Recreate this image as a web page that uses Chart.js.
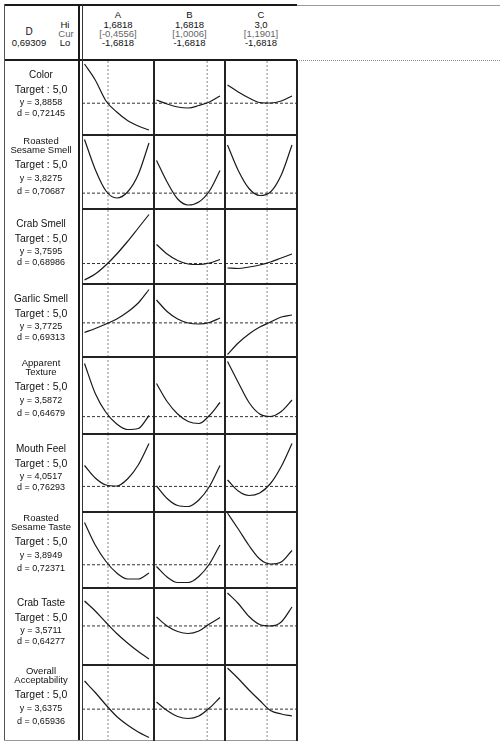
<!DOCTYPE html>
<html><head><meta charset="utf-8">
<script src="https://cdn.jsdelivr.net/npm/chart.js@4"></script>
<style>
body{margin:0;background:#fff;width:502px;height:742px;position:relative;overflow:hidden;font-family:"Liberation Sans",Arial,sans-serif;color:#111}
.t{position:absolute;white-space:nowrap;transform:translate(-50%,-50%);line-height:1;color:#111}
.ln{position:absolute}
canvas{position:absolute}
</style></head><body>
<script>
// ---------- data ----------
const factorNames = ["A", "B", "C"];
const factorHi = [1.6818, 1.6818, 3.0];
const factorHiDigits = [4, 4, 1];
const factorLo = [-1.6818, -1.6818, -1.6818];
const factorCur = [-0.4556, 1.0006, 1.1901];
const compositeD = 0.69309;

const xGridAB = [-1.6818, -1.1212, -0.5606, 0, 0.5606, 1.1212, 1.6818];
const xGridC = [-1.6818, -0.9015, -0.1212, 0.6591, 1.4394, 2.2197, 3.0];

const responseNames = [["Color"], ["Roasted", "Sesame Smell"], ["Crab Smell"], ["Garlic Smell"],
  ["Apparent", "Texture"], ["Mouth Feel"], ["Roasted", "Sesame Taste"], ["Crab Taste"], ["Overall", "Acceptability"]];
const responseTarget = [5.0, 5.0, 5.0, 5.0, 5.0, 5.0, 5.0, 5.0, 5.0];
const responseY = [3.8858, 3.8275, 3.7595, 3.7725, 3.5872, 4.0517, 3.8949, 3.5711, 3.6375];
const responseD = [0.72145, 0.70687, 0.68986, 0.69313, 0.64679, 0.76293, 0.72371, 0.64277, 0.65936];
const yAxisMin = [3.25, 3.51, 3.35, 3.09, 3.24, 3.54, 3.43, 2.79, 3.00];
const yAxisMax = [4.75, 4.99, 4.85, 4.55, 4.78, 5.10, 4.95, 4.33, 4.52];

const curveA = [
  [4.67, 4.35, 3.93, 3.71, 3.54, 3.43, 3.35],
  [4.90, 4.30, 3.87, 3.73, 3.85, 4.20, 4.83],
  [3.43, 3.55, 3.73, 3.95, 4.20, 4.47, 4.74],
  [3.58, 3.66, 3.75, 3.85, 3.99, 4.17, 4.44],
  [4.65, 4.05, 3.67, 3.44, 3.33, 3.35, 3.61],
  [4.47, 4.22, 4.08, 4.06, 4.20, 4.48, 4.91],
  [4.74, 4.29, 3.96, 3.73, 3.61, 3.61, 3.73],
  [4.07, 3.87, 3.64, 3.42, 3.23, 3.06, 2.91],
  [4.20, 3.97, 3.72, 3.49, 3.32, 3.18, 3.07]
];
const curveB = [
  [3.95, 3.87, 3.81, 3.79, 3.84, 3.91, 4.03],
  [4.48, 4.05, 3.71, 3.59, 3.65, 3.87, 4.28],
  [4.14, 3.95, 3.82, 3.75, 3.74, 3.77, 3.84],
  [4.23, 4.00, 3.85, 3.77, 3.75, 3.78, 3.87],
  [4.25, 3.89, 3.64, 3.49, 3.45, 3.61, 3.87],
  [4.06, 3.81, 3.67, 3.65, 3.78, 4.05, 4.47],
  [3.86, 3.65, 3.54, 3.54, 3.66, 3.91, 4.29],
  [3.75, 3.57, 3.46, 3.42, 3.47, 3.61, 3.74],
  [3.78, 3.61, 3.49, 3.45, 3.50, 3.66, 3.87]
];
const curveC = [
  [4.25, 4.11, 3.99, 3.90, 3.89, 3.93, 4.03],
  [4.79, 4.28, 3.92, 3.78, 3.85, 4.19, 4.79],
  [3.67, 3.66, 3.69, 3.73, 3.79, 3.87, 3.95],
  [3.14, 3.37, 3.55, 3.69, 3.79, 3.89, 3.93],
  [4.69, 4.27, 3.87, 3.64, 3.59, 3.69, 3.92],
  [4.18, 3.96, 3.87, 3.92, 4.11, 4.45, 4.91],
  [4.93, 4.61, 4.28, 4.01, 3.91, 3.95, 4.18],
  [4.23, 4.02, 3.76, 3.60, 3.57, 3.65, 3.95],
  [4.46, 4.25, 4.02, 3.81, 3.61, 3.54, 3.50]
];

// ---------- layout ----------
const COL_EDGES = [82, 154, 225, 297];
const ROW_EDGES = [60, 135, 209, 284, 357, 434, 512, 588, 665, 741];
const PAD_L = 2.5, PAD_R = 5;
const LABEL_CX = 41;

const fmt = (v, d) => (v < 0 ? "-" : "") + Math.abs(v).toFixed(d).replace(".", ",");

function addText(txt, x, y, size, color, extra) {
  const el = document.createElement("div");
  el.className = "t";
  el.textContent = txt;
  el.style.left = x + "px";
  el.style.top = y + "px";
  el.style.fontSize = size + "px";
  el.style.color = color || "#111";
  if (extra) Object.assign(el.style, extra);
  document.body.appendChild(el);
}
function addLine(x, y, w, h, color, dotted) {
  const el = document.createElement("div");
  el.className = "ln";
  el.style.left = x + "px"; el.style.top = y + "px";
  if (dotted) {
    el.style.width = w + "px"; el.style.height = "0px";
    el.style.borderTop = h + "px dotted " + color;
  } else {
    el.style.width = w + "px"; el.style.height = h + "px";
    el.style.background = color;
  }
  document.body.appendChild(el);
}

// ---------- charts ----------
const curves = [curveA, curveB, curveC];
const grids = [xGridAB, xGridAB, xGridC];
for (let r = 0; r < responseNames.length; r++) {
  for (let c = 0; c < 3; c++) {
    const left = COL_EDGES[c], w = COL_EDGES[c + 1] - COL_EDGES[c];
    const top = ROW_EDGES[r], h = ROW_EDGES[r + 1] - ROW_EDGES[r];
    const span = factorHi[c] - factorLo[c];
    const plotW = w - PAD_L - PAD_R;
    const xMin = factorLo[c] - PAD_L * span / plotW;
    const xMax = factorHi[c] + PAD_R * span / plotW;
    const cv = document.createElement("canvas");
    cv.width = w; cv.height = h;
    cv.style.left = left + "px"; cv.style.top = top + "px";
    document.body.appendChild(cv);
    new Chart(cv, {
      type: "line",
      data: {
        datasets: [
          { data: grids[c].map((x, i) => ({ x: x, y: curves[c][r][i] })), borderColor: "#1a1a1a",
            borderWidth: 1.2, pointRadius: 0, cubicInterpolationMode: "monotone", fill: false, order: 0 },
          { data: [{ x: xMin, y: responseY[r] }, { x: xMax, y: responseY[r] }], borderColor: "#333",
            borderWidth: 1, borderDash: [3, 2], pointRadius: 0, fill: false, order: 1 },
          { data: [{ x: factorCur[c], y: yAxisMin[r] }, { x: factorCur[c], y: yAxisMax[r] }], borderColor: "#888",
            borderWidth: 1, borderDash: [2, 2], pointRadius: 0, fill: false, order: 2 }
        ]
      },
      options: {
        responsive: false, animation: false, events: [],
        layout: { padding: 0 },
        plugins: { legend: { display: false }, tooltip: { enabled: false } },
        scales: {
          x: { type: "linear", display: false, min: xMin, max: xMax },
          y: { type: "linear", display: false, min: yAxisMin[r], max: yAxisMax[r] }
        }
      }
    });
  }
}

// ---------- grid lines ----------
addLine(4, 4, 293, 2, "#1a1a1a");
addLine(297, 5, 203, 1, "#9a9a9a");
addLine(4, 59, 293, 2, "#1a1a1a");
addLine(297, 60, 203, 1, "#8a8a8a", true);
addLine(4, 4, 1, 737, "#555");
addLine(78, 4, 2, 737, "#1a1a1a");
addLine(82, 4, 1, 737, "#333");
for (let r = 1; r < ROW_EDGES.length - 1; r++) addLine(82, ROW_EDGES[r] - 1, 215, 2, "#222");
addLine(4, 740, 293, 1, "#999");
addLine(COL_EDGES[1] - 1, 60, 2, 681, "#222");
addLine(COL_EDGES[2] - 1, 60, 2, 681, "#222");
addLine(COL_EDGES[3] - 1, 60, 2, 681, "#222");

// ---------- header text ----------
addText("D", 29, 32, 10);
addText(fmt(compositeD, 5), 29, 43, 9.5);
addText("Hi", 65, 25, 9.5, "#111");
addText("Cur", 66, 34, 9.5, "#666");
addText("Lo", 65, 43, 9.5, "#111");
for (let c = 0; c < 3; c++) {
  const cx = (COL_EDGES[c] + COL_EDGES[c + 1]) / 2;
  addText(factorNames[c], cx, 15, 9.5);
  addText(fmt(factorHi[c], factorHiDigits[c]), cx, 24.5, 9.5);
  addText("[" + fmt(factorCur[c], 4) + "]", cx, 33.5, 9.5, "#666");
  addText(fmt(factorLo[c], 4), cx, 42.5, 9.5);
}

// ---------- response labels ----------
for (let r = 0; r < responseNames.length; r++) {
  const top = ROW_EDGES[r];
  const names = responseNames[r];
  let offs;
  if (names.length === 1) {
    addText(names[0], LABEL_CX, top + 15, 10);
    offs = [29, 42, 53];
  } else {
    addText(names[0], LABEL_CX, top + 6, 9.5);
    addText(names[1], LABEL_CX, top + 15, 9.5);
    offs = [29, 43, 56];
  }
  addText("Target : " + fmt(responseTarget[r], 1), LABEL_CX, top + offs[0], 10.5);
  addText("y = " + fmt(responseY[r], 4), LABEL_CX, top + offs[1], 9);
  addText("d = " + fmt(responseD[r], 5), LABEL_CX, top + offs[2], 9);
}
</script>
</body></html>
